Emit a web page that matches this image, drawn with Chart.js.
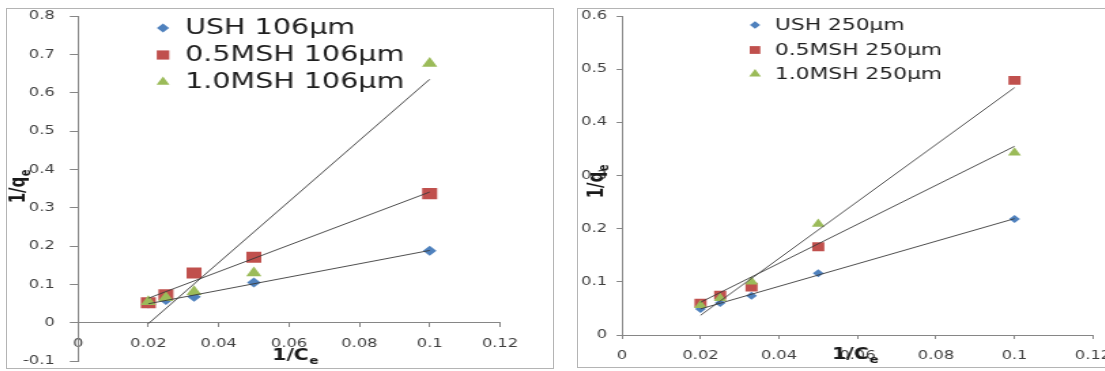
<!DOCTYPE html>
<html>
<head>
<meta charset="utf-8">
<script src="https://cdn.jsdelivr.net/npm/chart.js@4.4.0/dist/chart.umd.min.js"></script>
<style>
html, body { margin: 0; padding: 0; background: #fff; width: 1105px; height: 371px; overflow: hidden; }
.frame { position: absolute; border: 1px solid #b4b4b4; box-sizing: border-box; }
/* the source picture is stretched sideways, so the charts are too */
.wrap { position: absolute; transform-origin: 0 0; transform: scaleX(1.36); }
canvas { display: block; }
</style>
</head>
<body>
<div class="frame" style="left:6px;top:8px;width:548px;height:361px"></div>
<div class="frame" style="left:577px;top:8px;width:560px;height:360px"></div>
<div class="wrap" style="left:7px;top:8px"><canvas id="left" width="401" height="363"></canvas></div>
<div class="wrap" style="left:577px;top:8px"><canvas id="right" width="400" height="363"></canvas></div>
<script>
// 1/Ce values shared by all series
const invCe = [0.02, 0.025, 0.033, 0.05, 0.1];

// 106um panel, 1/qe
const ush106 = [0.050, 0.059, 0.068, 0.105, 0.188];
const msh05_106 = [0.052, 0.073, 0.130, 0.171, 0.337];
const msh10_106 = [0.055, 0.065, 0.081, 0.130, 0.677];
const labels106 = ["USH 106µm", "0.5MSH 106µm", "1.0MSH 106µm"];

// 250um panel, 1/qe
const ush250 = [0.049, 0.060, 0.074, 0.116, 0.218];
const msh05_250 = [0.060, 0.075, 0.090, 0.166, 0.479];
const msh10_250 = [0.056, 0.069, 0.100, 0.209, 0.343];
const labels250 = ["USH 250µm", "0.5MSH 250µm", "1.0MSH 250µm"];

// tick labels
const xTicks = [0, 0.02, 0.04, 0.06, 0.08, 0.1, 0.12];
const yTicks106 = [-0.1, 0, 0.1, 0.2, 0.3, 0.4, 0.5, 0.6, 0.7, 0.8];
const yTicks250 = [0, 0.1, 0.2, 0.3, 0.4, 0.5, 0.6];

const colors = ["#4F81BD", "#C0504D", "#9BBB59"];
const shapes = ["rectRot", "rect", "triangle"];
const FONT = "'DejaVu Sans', Verdana, sans-serif";

// least squares line across the data range (Excel linear trendline)
function trend(xs, ys) {
  const n = xs.length;
  const mx = xs.reduce((a, b) => a + b, 0) / n;
  const my = ys.reduce((a, b) => a + b, 0) / n;
  let sxy = 0, sxx = 0;
  for (let i = 0; i < n; i++) {
    sxy += (xs[i] - mx) * (ys[i] - my);
    sxx += (xs[i] - mx) * (xs[i] - mx);
  }
  const k = sxy / sxx, b = my - k * mx;
  const x0 = Math.min(...xs), x1 = Math.max(...xs);
  return [{ x: x0, y: k * x0 + b }, { x: x1, y: k * x1 + b }];
}

function drawMarker(ctx, shape, x, y, r, color) {
  ctx.fillStyle = color;
  ctx.beginPath();
  if (shape === "rect") {
    const h = r * Math.SQRT1_2;
    ctx.rect(x - h, y - h, 2 * h, 2 * h);
  } else if (shape === "rectRot") {
    ctx.moveTo(x, y - r); ctx.lineTo(x + r, y); ctx.lineTo(x, y + r); ctx.lineTo(x - r, y);
    ctx.closePath();
  } else {
    ctx.moveTo(x, y - r); ctx.lineTo(x + r * 0.866, y + r / 2); ctx.lineTo(x - r * 0.866, y + r / 2);
    ctx.closePath();
  }
  ctx.fill();
}

function drawTitle(ctx, x, y, main, sub, rotate) {
  ctx.save();
  ctx.translate(x, y);
  if (rotate) ctx.rotate(-Math.PI / 2);
  ctx.fillStyle = "#1a1a1a";
  ctx.textBaseline = "middle";
  ctx.textAlign = "center";
  ctx.font = "bold 15px " + FONT;
  ctx.fillText(main, 0, 0);
  const w = ctx.measureText(main).width;
  ctx.textAlign = "left";
  ctx.font = "bold 10px " + FONT;
  ctx.fillText(sub, w / 2 + 0.5, 5);
  ctx.restore();
}

// legend inside the plot + axis titles that sit over the tick labels
const overlay = {
  id: "overlay",
  afterDraw(chart, args, o) {
    const ctx = chart.ctx;
    ctx.save();
    ctx.font = o.legendFont;
    ctx.textBaseline = "middle";
    ctx.textAlign = "left";
    for (let i = 0; i < 3; i++) {
      drawMarker(ctx, shapes[i], o.markerX, o.rows[i], o.radii[i], colors[i]);
      ctx.fillStyle = "#1f1f1f";
      ctx.fillText(chart.data.datasets[i].label, o.textX, o.rows[i] + 1);
    }
    ctx.restore();
    drawTitle(ctx, o.xTitle[0], o.xTitle[1], "1/C", "e", false);
    drawTitle(ctx, o.yTitle[0], o.yTitle[1], "1/q", "e", true);
  }
};

function fmt(v) { return String(Math.round(v * 100) / 100); }

function makeChart(id, series, labels, yTicks, g) {
  const datasets = [];
  for (let i = 0; i < 3; i++) {
    datasets.push({
      type: "scatter",
      label: labels[i],
      data: invCe.map((x, j) => ({ x: x, y: series[i][j] })),
      pointStyle: shapes[i],
      pointRadius: g.pointRadii[i],
      pointHoverRadius: g.pointRadii[i],
      pointBackgroundColor: colors[i],
      pointBorderWidth: 0,
      order: 3 - i
    });
  }
  for (let i = 0; i < 3; i++) {
    datasets.push({
      type: "line",
      label: "trend" + i,
      data: trend(invCe, series[i]),
      borderColor: "#3a3a3a",
      borderWidth: 0.9,
      pointRadius: 0,
      fill: false,
      order: 0
    });
  }
  return new Chart(document.getElementById(id), {
    type: "scatter",
    data: { datasets: datasets },
    plugins: [overlay],
    options: {
      responsive: false,
      animation: false,
      layout: { autoPadding: false, padding: g.padding },
      plugins: {
        legend: { display: false },
        tooltip: { enabled: false },
        overlay: g.overlay
      },
      scales: {
        x: {
          type: "linear",
          position: g.xPosition,
          min: xTicks[0],
          max: xTicks[xTicks.length - 1],
          afterBuildTicks: s => { s.ticks = xTicks.map(v => ({ value: v })); },
          // fixed size, and no extra room for the end labels
          afterFit: s => { s.height = g.xHeight; s.paddingLeft = 0; s.paddingRight = 0; },
          grid: { drawOnChartArea: false, tickLength: 4, color: "#868686" },
          border: { color: "#868686", width: 1 },
          ticks: {
            autoSkip: false, maxRotation: 0, padding: g.xPad,
            color: "#404040", font: { family: FONT, size: 12 },
            callback: v => fmt(v)
          }
        },
        y: {
          type: "linear",
          position: "left",
          min: yTicks[0],
          max: yTicks[yTicks.length - 1],
          afterBuildTicks: s => { s.ticks = yTicks.map(v => ({ value: v })); },
          afterFit: s => { s.width = g.yWidth; s.paddingTop = 0; s.paddingBottom = 0; },
          grid: { drawOnChartArea: false, tickLength: g.yTick, color: "#868686" },
          border: { color: "#868686", width: 1 },
          ticks: {
            autoSkip: false, padding: g.yPad,
            color: "#404040", font: { family: FONT, size: 12 },
            callback: v => fmt(v)
          }
        }
      }
    }
  });
}

makeChart("left", [ush106, msh05_106, msh10_106], labels106, yTicks106, {
  padding: { top: 8.3, right: 38.5, bottom: 10, left: 0 },
  xPosition: { y: 0 },
  xHeight: 0,
  xPad: 10,
  yWidth: 52.2,
  yTick: 6,
  yPad: 11,
  pointRadii: [5, 7.8, 6.5],
  overlay: {
    legendFont: "21px " + FONT,
    markerX: 114.7, textX: 130.9, rows: [20, 47, 74], radii: [4.5, 6.5, 5.5],
    xTitle: [208.4, 348], yTitle: [9.6, 182]
  }
});

makeChart("right", [ush250, msh05_250, msh10_250], labels250, yTicks250, {
  padding: { top: 8, right: 20.6, bottom: 0, left: 0 },
  xPosition: "bottom",
  xHeight: 36,
  xPad: 10,
  yWidth: 33.1,
  yTick: 4,
  yPad: 7,
  pointRadii: [4, 6.3, 5.5],
  overlay: {
    legendFont: "16px " + FONT,
    markerX: 130.9, textX: 145.6, rows: [17, 42, 66], radii: [3.8, 5.5, 5],
    xTitle: [201, 347], yTitle: [15.4, 177]
  }
});
</script>
</body>
</html>
